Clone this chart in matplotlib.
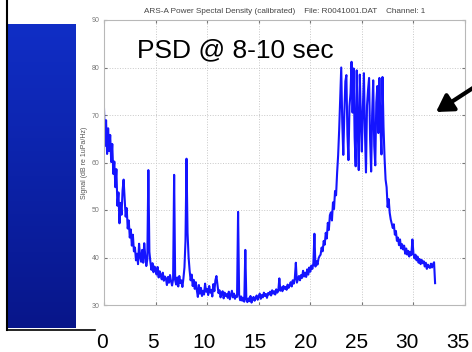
import numpy as np
import matplotlib
matplotlib.use("Agg")
from matplotlib import pyplot as plt
from matplotlib.lines import Line2D
from matplotlib.patches import FancyArrowPatch

# ---------- DATA ----------
# PSD values in dB re 1uPa/Hz, one row per kHz, 0.1 kHz apart
psd_db = [
    71.3, 63.5, 68.9, 61.8, 67.2, 62.4, 65.8, 60.1, 63.9, 57.6,
    60.2, 54.8, 58.6, 50.9, 53.7, 47.2, 51.5, 49.0, 54.1, 56.4,
    52.3, 48.6, 50.4, 46.1, 47.8, 44.2, 45.9, 42.5, 44.8, 41.3,
    42.1, 39.4, 40.8, 38.6, 42.9, 40.2, 39.1, 41.6, 38.9, 43.0,
    40.4, 38.2, 39.6, 58.4, 41.2, 39.0, 37.4, 38.8, 36.9, 38.1,
    37.5, 36.4, 38.0, 35.8, 37.1, 36.2, 35.4, 36.8, 35.1, 36.0,
    35.6, 34.2, 35.9, 34.7, 36.3, 35.0, 34.1, 35.4, 57.4, 35.2,
    34.3, 35.8, 33.9, 36.1, 34.6, 35.2, 33.8, 35.6, 37.9, 43.5,
    60.8, 45.2, 40.1, 37.3, 35.2, 36.4, 34.0, 35.3, 33.4, 34.8,
    33.1, 31.7, 34.2, 32.4, 33.6, 31.9, 33.0, 32.2, 34.5, 32.8,
    33.4, 32.1, 34.0, 32.6, 33.2, 31.8, 34.4, 32.9, 35.2, 36.1,
    34.3, 32.5, 33.1, 31.6, 32.4, 32.9, 31.4, 32.6, 31.9, 32.3,
    31.5, 32.8, 31.2, 32.1, 33.0, 31.6, 32.4, 31.3, 32.0, 31.7,
    49.6, 32.2, 31.0, 31.8, 30.9, 31.5, 30.7, 41.6, 31.2, 30.6,
    31.4, 30.8, 31.9, 30.5, 31.2, 31.7, 30.9, 31.5, 32.0, 31.1,
    31.8, 32.4, 31.3, 32.1, 31.6, 32.6, 31.9, 32.3, 31.5, 32.5,
    32.2, 32.8, 32.0, 33.1, 32.4, 32.9, 32.2, 33.3, 32.6, 33.0,
    35.6, 33.0, 33.7, 32.9, 34.0, 33.4, 33.8, 33.2, 34.3, 33.6,
    34.1, 34.8, 33.9, 35.2, 34.5, 35.6, 38.9, 34.7, 35.4, 36.1,
    35.2, 36.3, 35.7, 37.2, 36.0, 36.8, 35.9, 37.5, 36.4, 37.9,
    37.0, 38.3, 37.6, 38.8, 45.0, 38.1, 39.2, 38.5, 39.8, 40.3,
    40.6, 42.1, 41.3, 43.5, 42.7, 45.2, 44.0, 47.3, 45.8, 48.9,
    49.5, 47.8, 51.6, 50.2, 54.0, 53.1, 57.8, 61.5, 66.9, 73.4,
    80.0, 68.4, 61.6, 70.2, 77.1, 78.4, 66.0, 60.5, 71.8, 74.6,
    81.2, 70.5, 79.8, 65.3, 59.2, 79.4, 67.1, 58.4, 78.5, 69.8,
    62.3, 71.6, 78.8, 66.4, 57.9, 72.0, 75.3, 77.8, 64.8, 58.1,
    70.3, 77.3, 63.5, 59.4, 72.6, 76.1, 66.2, 77.8, 68.0, 61.7,
    78.0, 67.5, 61.0, 56.4, 54.8, 50.6, 52.3, 49.4, 48.0, 47.1,
    46.2, 47.0, 44.8, 45.6, 43.5, 44.2, 42.6, 43.8, 41.9, 42.8,
    41.7, 42.5, 40.8, 41.9, 40.6, 41.4, 40.2, 41.2, 40.5, 43.8,
    40.9, 39.8, 40.6, 39.4, 40.2, 38.9, 39.7, 38.6, 39.5, 38.8,
    39.2, 38.1, 38.9, 37.6, 38.5, 38.0, 37.8, 38.7, 37.9, 38.6,
    39.0, 34.6,
]
freq_step = 0.1  # kHz
freq_khz = np.arange(len(psd_db)) * freq_step

x_ticks = [0, 5, 10, 15, 20, 25, 30, 35]
y_ticks = [30, 40, 50, 60, 70, 80, 90]

title = "ARS-A Power Spectal Density (calibrated)    File: R0041001.DAT    Channel: 1"

# ---------- FIGURE ----------
W, H = 472, 352
fig = plt.figure(figsize=(W / 100, H / 100), dpi=100)
fig.patch.set_facecolor("white")
plt.rcParams["font.family"] = ["Liberation Sans", "DejaVu Sans"]

# slide decoration: blue gradient bar on the left
bar = fig.add_axes([8 / W, 1 - 328 / H, 68 / W, 304 / H])
top_col = np.array([16, 46, 198]) / 255
bot_col = np.array([8, 22, 138]) / 255
t = np.linspace(0, 1, 256)[:, None]
grad = (top_col * (1 - t) + bot_col * t)[:, None, :]
bar.imshow(grad, aspect="auto", extent=[0, 1, 0, 1])
bar.axis("off")

fig.add_artist(Line2D([7 / W, 7 / W], [1 - 330 / H, 1.0], color="black", lw=1.5))
fig.add_artist(Line2D([7 / W, 95 / W], [1 - 330 / H, 1 - 330 / H], color="black", lw=1.2))

# ---------- MAIN PLOT ----------
ax = fig.add_axes([104 / W, 1 - 305 / H, 361 / W, 285 / H])
ax.plot(freq_khz, psd_db, color="#1414ff", lw=1.5)
ax.set_xlim(0, 35)
ax.set_ylim(30, 90)
ax.set_xticks(x_ticks)
ax.set_yticks(y_ticks)
ax.set_xticklabels([])
ax.grid(True, linestyle=":", color="#c8c8c8", lw=0.7)
ax.tick_params(direction="in", length=2.5, colors="#777777", labelsize=5, pad=3,
               top=True, right=True)
for s in ax.spines.values():
    s.set_color("#b8b8b8")
    s.set_linewidth(0.8)
ax.set_ylabel("Signal (dB re 1uPa/Hz)", fontsize=5, color="#555555", labelpad=3)
ax.set_title(title, fontsize=5.9, color="#444444", pad=5)

# big overlay text
fig.text(137 / W, 1 - 57 / H, "PSD @ 8-10 sec", fontsize=19, color="black", va="baseline")

# arrow at the right edge
arrow = FancyArrowPatch((W + 4, H - 86), (436, H - 112), transform=None,
                        arrowstyle="-|>,head_length=10,head_width=6",
                        mutation_scale=1, color="black", lw=3,
                        shrinkA=0, shrinkB=0)
fig.add_artist(arrow)

# slide x labels (kHz) underneath
lab = fig.add_axes([102 / W, 1 - 333 / H, 356 / W, 0.001])
lab.set_xlim(0, 35)
lab.set_xticks(x_ticks)
lab.set_xticklabels([str(v) for v in x_ticks])
lab.tick_params(axis="x", length=0, labelsize=15, pad=0)
lab.set_yticks([])
for s in lab.spines.values():
    s.set_visible(False)
lab.patch.set_alpha(0)

fig.savefig("out.png", dpi=100)
